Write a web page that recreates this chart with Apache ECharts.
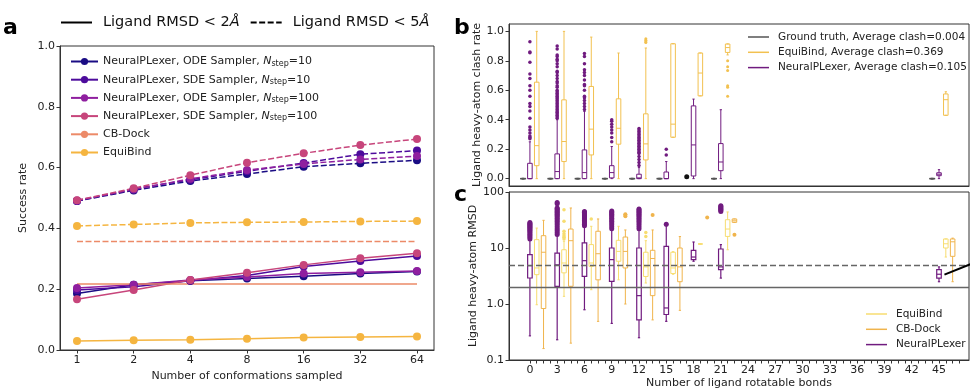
<!DOCTYPE html>
<html>
<head>
<meta charset="utf-8">
<script src="https://cdn.jsdelivr.net/npm/echarts@6/dist/echarts.min.js"></script>
<style>html,body{margin:0;padding:0;background:#fff}#c{width:974px;height:391px}</style>
</head>
<body>
<div id="c"></div>
<script>
// ---------- Panel a data ----------
const convLabels = [1, 2, 4, 8, 16, 32, 64];
const odeN10_lt2  = [0.186, 0.215, 0.228, 0.235, 0.243, 0.252, 0.258];
const sdeN10_lt2  = [0.197, 0.208, 0.228, 0.245, 0.275, 0.293, 0.309];
const odeN100_lt2 = [0.204, 0.215, 0.230, 0.240, 0.252, 0.256, 0.260];
const sdeN100_lt2 = [0.167, 0.197, 0.230, 0.254, 0.280, 0.302, 0.318];
const cbDock_lt2  = [0.217, 0.217, 0.217, 0.217, 0.217, 0.217, 0.217];
const equiBind_lt2 = [0.030, 0.032, 0.034, 0.037, 0.041, 0.043, 0.044];
const odeN10_lt5  = [0.490, 0.525, 0.556, 0.579, 0.603, 0.614, 0.624];
const sdeN10_lt5  = [0.490, 0.530, 0.560, 0.588, 0.615, 0.644, 0.656];
const odeN100_lt5 = [0.492, 0.528, 0.563, 0.592, 0.612, 0.627, 0.638];
const sdeN100_lt5 = [0.493, 0.532, 0.575, 0.616, 0.647, 0.674, 0.694];
const cbDock_lt5  = [0.357, 0.357, 0.357, 0.357, 0.357, 0.357, 0.357];
const equiBind_lt5 = [0.408, 0.413, 0.418, 0.420, 0.421, 0.423, 0.424];

// ---------- Panel b data (clash rate): [min, q1, median, q3, max] ----------
const bondGroups = [0, 3, 6, 9, 12, 15, 18, 21, 45];
const clashGT = [[0,0,0,0,0],[0,0,0,0,0],[0,0,0,0,0],[0,0,0,0,0],[0,0,0,0,0],[0,0,0,0,0],null,[0,0,0,0,0],[0,0,0,0,0]];
const clashGTOut = [[],[],[],[],[],[],[0.012],[],[]];
const clashNP = [
  [0, 0, 0.0, 0.104, 0.25],
  [0, 0, 0.048, 0.168, 0.40],
  [0, 0, 0.041, 0.195, 0.456],
  [0, 0.005, 0.041, 0.088, 0.218],
  [0, 0, 0.005, 0.03, 0.075],
  [0, 0, 0.0, 0.045, 0.116],
  [0, 0.018, 0.229, 0.494, 0.54],
  [0, 0.054, 0.113, 0.238, 0.468],
  [0, 0.02, 0.03, 0.04, 0.061]
];
const clashNPOut = [
  [0.93, 0.86, 0.855, 0.79, 0.71, 0.68, 0.63, 0.60, 0.56, 0.51, 0.49, 0.46, 0.41, 0.35, 0.33, 0.31, 0.29, 0.28, 0.27],
  [0.90, 0.88, 0.84, 0.83, 0.81, 0.80, 0.78, 0.76, 0.73, 0.72, 0.70, 0.68, 0.66, 0.65, 0.63, 0.62, 0.60, 0.59, 0.58, 0.57, 0.56, 0.55, 0.54, 0.53, 0.52, 0.51, 0.50, 0.49, 0.48, 0.47, 0.46, 0.45, 0.44, 0.43, 0.42, 0.41],
  [0.85, 0.83, 0.78, 0.74, 0.72, 0.70, 0.67, 0.64, 0.63, 0.60, 0.56, 0.55, 0.53, 0.51, 0.49, 0.47],
  [0.40, 0.39, 0.37, 0.35, 0.33, 0.31, 0.28, 0.25],
  [0.34, 0.33, 0.32, 0.31, 0.30, 0.29, 0.28, 0.27, 0.26, 0.25, 0.24, 0.23, 0.22, 0.21, 0.20, 0.19, 0.18, 0.17, 0.15, 0.13, 0.11, 0.09],
  [0.20, 0.16],
  [], [], []
];
const clashEB = [
  [0, 0.088, 0.224, 0.655, 1.0],
  [0, 0.116, 0.252, 0.535, 1.0],
  [0, 0.161, 0.336, 0.626, 0.961],
  [0, 0.234, 0.342, 0.542, 0.853],
  [0, 0.127, 0.236, 0.44, 0.887],
  [0.281, 0.281, 0.37, 0.916, 0.916],
  [0.562, 0.562, 0.717, 0.853, 0.853],
  [0.84, 0.857, 0.89, 0.914, 0.915],
  [0.43, 0.43, 0.536, 0.575, 0.59]
];
const clashEBOut = [[],[],[],[],[0.95, 0.94, 0.93, 0.925],[],[],[0.80, 0.76, 0.735, 0.63, 0.62, 0.56],[]];

// ---------- Panel c data (RMSD, log): [min, q1, median, q3, max] ----------
const rmsdNP = [
  [0.27, 2.91, 4.84, 7.6, 14],
  [0.23, 2.07, 5.0, 8.1, 17],
  [0.79, 3.12, 5.94, 12.3, 24],
  [0.45, 2.54, 6.2, 10, 21],
  [0.25, 0.52, 1.41, 10, 21],
  [0.49, 0.65, 0.85, 10.7, 25],
  [5.8, 6.2, 6.9, 9.1, 12.8],
  [2.9, 4.1, 4.6, 9.6, 11.5],
  [2.5, 2.9, 3.4, 4.1, 4.6]
];
const rmsdNPOut = [
  [14.5, 15.5, 16.5, 17.5, 18.5, 19.5, 20.5, 21.5, 22.5, 23.5, 24.5, 25.5, 26.5, 27.5, 28.5],
  [17.5, 19, 20.5, 22, 24, 26, 28, 30, 32, 34, 36, 38, 40, 42, 44, 46, 48, 50, 52, 62, 65],
  [25, 26.5, 28, 29.5, 31, 33, 34.5, 36, 37.5, 39, 40.5, 42, 43.5, 45],
  [22, 24, 26, 28, 30, 32, 34, 36, 38, 40, 42, 44, 46],
  [22, 24, 26, 28, 30, 32, 34, 36, 38, 40, 42, 44, 46, 48, 49.5],
  [26.5],
  [],
  [45, 47, 49, 51, 53, 55, 57],
  []
];
const rmsdEB = [
  [0.97, 3.34, 4.4, 14.1, 22.7],
  [1.37, 3.6, 5.4, 9.3, 13.2],
  [1.8, 4.7, 5.4, 11.5, 24.4],
  [2.7, 5.8, 8.7, 13.7, 24.4],
  [2.37, 3.1, 4.6, 8.4, 13.5],
  [3.4, 3.5, 4.4, 8.4, 8.6],
  [11.8, 11.8, 11.8, 11.8, 11.8],
  [9.3, 16.1, 21.8, 32, 44],
  [6.9, 10, 11.9, 14.5, 14.5]
];
const rmsdEBOut = [[],[14.5, 15.5, 16.5, 18, 20, 30, 48],[33],[],[16, 19],[],[],[],[]];
const rmsdCB = [
  [0.16, 0.83, 8.4, 16.6, 31.2],
  [0.2, 2.07, 13.5, 21.8, 51.8],
  [0.49, 2.7, 7.9, 19.9, 33],
  [1.0, 4.4, 8.7, 15.7, 21],
  [0.52, 1.41, 6.5, 9.1, 21],
  [0.77, 2.5, 4.6, 10, 16],
  null,
  [28.7, 28.7, 30.6, 33, 33],
  [2.5, 7.1, 12.9, 14.5, 15]
];
const rmsdCBOut = [[],[],[],[37, 39, 40],[39],[],[35],[17.3],[]];
const rmsdThresholds = [2, 5];
const annotLine = [[45.6, 3.34], [48.8, 5.39]];

// ---------- styles ----------
const C_ODE10 = '#1a0c84', C_SDE10 = '#4d0b9c', C_ODE100 = '#8f1f9f', C_SDE100 = '#c7457b';
const C_CB = '#ec8a68', C_EB = '#f5b540';
const NP_C = '#701b7f', EB_B = '#f2c150', EB_C = '#f7dd70', CB_C = '#f0b44c', GT_C = '#555555';
const TXT = '#222';
const FONT = 'DejaVu Sans';

function lineSeries(name, arr, color, dashed, withSymbol) {
  return {
    name: name, type: 'line', xAxisIndex: 0, yAxisIndex: 0,
    data: arr.map((v, i) => [i, v]),
    symbol: withSymbol ? 'circle' : 'none', symbolSize: 8, showSymbol: withSymbol,
    itemStyle: { color: color },
    lineStyle: { color: color, width: 1.5, type: dashed ? [6, 2.5] : 'solid' },
    z: 3
  };
}

function boxRenderer(color, lw) {
  return function (params, api) {
    const x = api.value(0);
    const lo = api.value(1), q1 = api.value(2), med = api.value(3), q3 = api.value(4), hi = api.value(5);
    const w = api.size([0.5, 0])[0];
    const h = w / 2, c = w / 4;
    const pLo = api.coord([x, lo]), pQ1 = api.coord([x, q1]), pMed = api.coord([x, med]);
    const pQ3 = api.coord([x, q3]), pHi = api.coord([x, hi]);
    const cx = pLo[0];
    const st = { stroke: color, lineWidth: lw, fill: null };
    return {
      type: 'group',
      children: [
        { type: 'line', shape: { x1: cx, y1: pLo[1], x2: cx, y2: pQ1[1] }, style: st },
        { type: 'line', shape: { x1: cx, y1: pQ3[1], x2: cx, y2: pHi[1] }, style: st },
        { type: 'line', shape: { x1: cx - c, y1: pLo[1], x2: cx + c, y2: pLo[1] }, style: st },
        { type: 'line', shape: { x1: cx - c, y1: pHi[1], x2: cx + c, y2: pHi[1] }, style: st },
        { type: 'rect', shape: { x: cx - h, y: pQ3[1], width: w, height: Math.max(pQ1[1] - pQ3[1], 0.01) }, style: st },
        { type: 'line', shape: { x1: cx - h, y1: pMed[1], x2: cx + h, y2: pMed[1] }, style: st }
      ]
    };
  };
}

function boxSeries(name, boxes, offset, color, axis, lw) {
  const data = [];
  boxes.forEach((b, i) => { if (b) data.push([bondGroups[i] + offset].concat(b)); });
  return {
    name: name, type: 'custom', xAxisIndex: axis, yAxisIndex: axis,
    renderItem: boxRenderer(color, lw),
    encode: { x: 0, y: [1, 2, 3, 4, 5] },
    itemStyle: { color: color },
    data: data, z: 4, silent: true
  };
}

function outlierSeries(name, outs, offset, color, axis, size) {
  const data = [];
  outs.forEach((list, i) => list.forEach(v => data.push([bondGroups[i] + offset, v])));
  return {
    name: name, type: 'scatter', xAxisIndex: axis, yAxisIndex: axis,
    symbol: 'circle', symbolSize: size, itemStyle: { color: color, opacity: 1 },
    data: data, z: 5, silent: true
  };
}

const cTicks = [];
const cLabels = [];
for (let n = 0; n <= 45; n += 3) { cLabels.push(n); for (let k = 0; k < 4; k++) cTicks.push(n + 0.75 * k); }

const axisCommon = {
  axisLine: { show: true, onZero: false, lineStyle: { color: '#333', width: 1 } },
  axisTick: { show: true, length: 3.5, lineStyle: { color: '#333' } },
  axisLabel: { color: TXT, fontSize: 11, fontFamily: FONT, margin: 5 },
  splitLine: { show: false },
  nameTextStyle: { color: TXT, fontSize: 11, fontFamily: FONT }
};

const nameMap = {
  'ODE10': 'NeuralPLexer, ODE Sampler, {n|N}{s|step}=10',
  'SDE10': 'NeuralPLexer, SDE Sampler, {n|N}{s|step}=10',
  'ODE100': 'NeuralPLexer, ODE Sampler, {n|N}{s|step}=100',
  'SDE100': 'NeuralPLexer, SDE Sampler, {n|N}{s|step}=100',
  'CB-Dock a': 'CB-Dock',
  'EquiBind a': 'EquiBind'
};

const option = {
  animation: false,
  backgroundColor: '#fff',
  textStyle: { fontFamily: FONT },
  title: [
    { text: 'a', left: 3, top: 17, padding: 0, textStyle: { fontSize: 22, fontWeight: 'bold', color: '#000', fontFamily: FONT } },
    { text: 'b', left: 454, top: 17, padding: 0, textStyle: { fontSize: 22, fontWeight: 'bold', color: '#000', fontFamily: FONT } },
    { text: 'c', left: 454, top: 184, padding: 0, textStyle: { fontSize: 22, fontWeight: 'bold', color: '#000', fontFamily: FONT } }
  ],
  grid: [
    { left: 60, top: 46, width: 374, height: 304, show: true, borderColor: '#333', borderWidth: 1, backgroundColor: 'transparent' },
    { left: 509, top: 24, width: 460, height: 162, show: true, borderColor: '#333', borderWidth: 1, backgroundColor: 'transparent' },
    { left: 509, top: 192, width: 460, height: 168, show: true, borderColor: '#333', borderWidth: 1, backgroundColor: 'transparent' }
  ],
  xAxis: [
    Object.assign({}, axisCommon, {
      gridIndex: 0, type: 'value', min: -0.3, max: 6.3,
      axisTick: Object.assign({}, axisCommon.axisTick, { customValues: [0, 1, 2, 3, 4, 5, 6] }),
      axisLabel: Object.assign({}, axisCommon.axisLabel, { customValues: [0, 1, 2, 3, 4, 5, 6], formatter: v => String(convLabels[Math.round(v)]) }),
      name: 'Number of conformations sampled', nameLocation: 'middle', nameGap: 21
    }),
    Object.assign({}, axisCommon, {
      gridIndex: 1, type: 'value', min: -2.3, max: 48.3,
      axisTick: { show: false }, axisLabel: { show: false }
    }),
    Object.assign({}, axisCommon, {
      gridIndex: 2, type: 'value', min: -2.3, max: 48.3,
      axisTick: Object.assign({}, axisCommon.axisTick, { customValues: cTicks }),
      axisLabel: Object.assign({}, axisCommon.axisLabel, { customValues: cLabels, formatter: v => String(Math.round(v)) }),
      name: 'Number of ligand rotatable bonds', nameLocation: 'middle', nameGap: 18
    })
  ],
  yAxis: [
    Object.assign({}, axisCommon, {
      gridIndex: 0, type: 'value', min: 0, max: 1, interval: 0.2,
      axisLabel: Object.assign({}, axisCommon.axisLabel, { formatter: v => v.toFixed(1) }),
      name: 'Success rate', nameLocation: 'middle', nameGap: 31
    }),
    Object.assign({}, axisCommon, {
      gridIndex: 1, type: 'value', min: -0.05, max: 1.05,
      axisTick: Object.assign({}, axisCommon.axisTick, { customValues: [0, 0.2, 0.4, 0.6, 0.8, 1.0] }),
      axisLabel: Object.assign({}, axisCommon.axisLabel, { customValues: [0, 0.2, 0.4, 0.6, 0.8, 1.0], formatter: v => v.toFixed(1) }),
      name: 'Ligand heavy-atom clash rate', nameLocation: 'middle', nameGap: 23
    }),
    Object.assign({}, axisCommon, {
      gridIndex: 2, type: 'log', logBase: 10, min: 0.1, max: 100,
      axisLabel: Object.assign({}, axisCommon.axisLabel, { formatter: v => (Math.abs(v - 1) < 1e-9 ? '1.0' : (v < 1 ? '0.1' : String(Math.round(v)))) }),
      name: 'Ligand heavy-atom RMSD', nameLocation: 'middle', nameGap: 27
    })
  ],
  legend: [
    {
      data: ['lt2', 'lt5'], left: 60, top: 15, padding: 0, orient: 'horizontal',
      itemWidth: 31, itemHeight: 10, itemGap: 10, selectedMode: false,
      itemStyle: { color: 'rgba(0,0,0,0)', borderWidth: 0, opacity: 0 },
      formatter: n => n === 'lt2' ? 'Ligand RMSD < 2{i|Å}' : 'Ligand RMSD < 5{i|Å}',
      textStyle: { fontSize: 14.5, color: '#111', fontFamily: FONT, padding: [0, 0, 0, 6], rich: { i: { fontSize: 14.5, fontStyle: 'italic', fontFamily: FONT, color: '#111' } } }
    },
    {
      data: ['ODE10', 'SDE10', 'ODE100', 'SDE100', 'CB-Dock a', 'EquiBind a'],
      left: 70, top: 55, padding: 0, orient: 'vertical',
      itemWidth: 27, itemHeight: 9, itemGap: 5.2, selectedMode: false,
      formatter: n => nameMap[n],
      textStyle: {
        fontSize: 11, color: TXT, fontFamily: FONT, lineHeight: 13,
        rich: {
          n: { fontSize: 11, fontStyle: 'italic', fontFamily: FONT, color: TXT, lineHeight: 13 },
          s: { fontSize: 8, fontFamily: FONT, color: TXT, lineHeight: 13, padding: [4, 0, 0, 0] }
        }
      }
    },
    {
      data: ['Ground truth, Average clash=0.004', 'EquiBind, Average clash=0.369', 'NeuralPLexer, Average clash=0.105'],
      left: 748, top: 31, padding: 0, orient: 'vertical', icon: 'rect',
      itemWidth: 21, itemHeight: 1.5, itemGap: 3.3, selectedMode: false,
      textStyle: { fontSize: 10.5, color: TXT, fontFamily: FONT, lineHeight: 12, padding: [0, 0, 0, 4] }
    },
    {
      data: ['EquiBind', 'CB-Dock', 'NeuralPLexer'],
      left: 866, top: 308, padding: 0, orient: 'vertical', icon: 'rect',
      itemWidth: 21, itemHeight: 1.5, itemGap: 3.3, selectedMode: false,
      textStyle: { fontSize: 10.5, color: TXT, fontFamily: FONT, lineHeight: 12, padding: [0, 0, 0, 4] }
    }
  ],
  series: [
    // legend-only series for line styles
    { name: 'lt2', type: 'line', xAxisIndex: 0, yAxisIndex: 0, data: [], symbol: 'none', itemStyle: { color: '#000' }, lineStyle: { color: '#000', width: 2, type: 'solid' } },
    { name: 'lt5', type: 'line', xAxisIndex: 0, yAxisIndex: 0, data: [], symbol: 'none', itemStyle: { color: '#000' }, lineStyle: { color: '#000', width: 2, type: [6, 2.5] } },
    // panel a, RMSD < 2 (solid)
    lineSeries('ODE10', odeN10_lt2, C_ODE10, false, true),
    lineSeries('SDE10', sdeN10_lt2, C_SDE10, false, true),
    lineSeries('ODE100', odeN100_lt2, C_ODE100, false, true),
    lineSeries('SDE100', sdeN100_lt2, C_SDE100, false, true),
    lineSeries('CB-Dock a', cbDock_lt2, C_CB, false, false),
    lineSeries('EquiBind a', equiBind_lt2, C_EB, false, true),
    // panel a, RMSD < 5 (dashed)
    lineSeries('ODE10', odeN10_lt5, C_ODE10, true, true),
    lineSeries('SDE10', sdeN10_lt5, C_SDE10, true, true),
    lineSeries('ODE100', odeN100_lt5, C_ODE100, true, true),
    lineSeries('SDE100', sdeN100_lt5, C_SDE100, true, true),
    lineSeries('CB-Dock a', cbDock_lt5, C_CB, true, false),
    lineSeries('EquiBind a', equiBind_lt5, C_EB, true, true),
    // panel b
    boxSeries('Ground truth, Average clash=0.004', clashGT, -0.75, GT_C, 1, 1.5),
    boxSeries('EquiBind, Average clash=0.369', clashEB, 0.75, EB_B, 1, 1),
    boxSeries('NeuralPLexer, Average clash=0.105', clashNP, 0, NP_C, 1, 1),
    outlierSeries('gt-out', clashGTOut, -0.75, '#111', 1, 5),
    outlierSeries('np-out-b', clashNPOut, 0, NP_C, 1, 3.5),
    outlierSeries('eb-out-b', clashEBOut, 0.75, EB_B, 1, 3),
    // panel c
    boxSeries('EquiBind', rmsdEB, 0.75, EB_C, 2, 1),
    boxSeries('CB-Dock', rmsdCB, 1.5, CB_C, 2, 1),
    boxSeries('NeuralPLexer', rmsdNP, 0, NP_C, 2, 1.2),
    outlierSeries('np-out-c', rmsdNPOut, 0, NP_C, 2, 5),
    outlierSeries('eb-out-c', rmsdEBOut, 0.75, EB_C, 2, 3.5),
    outlierSeries('cb-out-c', rmsdCBOut, 1.5, CB_C, 2, 4),
    {
      name: 'thresholds', type: 'line', xAxisIndex: 2, yAxisIndex: 2, data: [], silent: true,
      markLine: {
        symbol: 'none', silent: true, label: { show: false },
        data: [
          { yAxis: rmsdThresholds[0], lineStyle: { color: '#666', width: 1.3, type: 'solid' } },
          { yAxis: rmsdThresholds[1], lineStyle: { color: '#666', width: 1.4, type: [6, 3] } }
        ]
      },
      z: 2
    },
    {
      name: 'annot', type: 'line', xAxisIndex: 2, yAxisIndex: 2, data: annotLine, clip: false,
      symbol: 'none', lineStyle: { color: '#000', width: 2 }, silent: true, z: 6
    }
  ]
};

const chart = echarts.init(document.getElementById('c'), null, { renderer: 'canvas' });
chart.setOption(option);
</script>
</body>
</html>
